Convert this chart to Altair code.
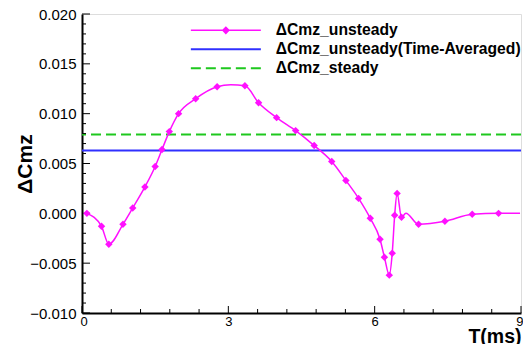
import altair as alt
import pandas as pd

# ---- data ----
t_ms = [0.10, 0.40, 0.55, 0.84, 1.04, 1.29, 1.50, 1.64, 1.79, 1.98, 2.33, 2.77,
        3.05, 3.34, 3.62, 3.99, 4.38, 4.76, 5.12, 5.41, 5.67, 5.91, 6.11, 6.20, 6.30,
        6.36, 6.41, 6.46, 6.55, 6.64, 6.90, 7.44, 8.00, 8.54, 8.98]
d_cmz = [0.0000, -0.0013, -0.0031, -0.0011, 0.00054, 0.00265, 0.0047, 0.0064,
         0.0082, 0.0100, 0.0115, 0.0127, 0.0129, 0.0128, 0.0111, 0.0096, 0.0083, 0.0068,
         0.0052, 0.0033, 0.0015, -0.0005, -0.0026, -0.0044, -0.0062, -0.0040,
         -0.0002, 0.0020, -0.0004, 0.00002, -0.0011, -0.0008, -0.0001, 0.0000, 0.0000]
has_marker = ([True] * 12 + [False] + [True] * 16 + [False] + [True] * 4 + [False])

series_names = ["ΔCmz_unsteady", "ΔCmz_unsteady(Time-Averaged)", "ΔCmz_steady"]
level_values = [0.0063, 0.0079]   # time-averaged, steady

# axis ticks / labels
y_major = [-0.010, -0.005, 0.000, 0.005, 0.010, 0.015, 0.020]
y_minor = [-0.009, -0.008, -0.007, -0.006, -0.004, -0.003, -0.002, -0.001,
           0.001, 0.002, 0.003, 0.004, 0.006, 0.007, 0.008, 0.009,
           0.011, 0.012, 0.013, 0.014, 0.016, 0.017, 0.018, 0.019]
x_major = [0, 3, 6, 9]
x_minor = [0.6, 1.2, 1.8, 2.4, 3.6, 4.2, 4.8, 5.4, 6.6, 7.2, 7.8, 8.4]

MAGENTA = "#ff10ff"
BLUE = "#3030ff"
GREEN = "#1ec81e"
FONT = "Liberation Sans, Arial, sans-serif"

W, H = 439, 299

unsteady = pd.DataFrame({"t": t_ms, "v": d_cmz, "marker": has_marker,
                         "series": series_names[0]})
marks_df = unsteady[unsteady["marker"]]
levels = pd.DataFrame({"series": series_names[1:], "v": level_values})

xs = alt.Scale(domain=[0, 9], nice=False, zero=False)
ys = alt.Scale(domain=[-0.010, 0.020], nice=False, zero=False)

AX = alt.Axis(
    orient="bottom", values=x_major, format="d", ticks=False, grid=False,
    domainColor="black", domainWidth=2, labelFont=FONT, labelFontSize=13,
    labelColor="black", labelPadding=2, labelFlush=True, labelFlushOffset=2,
    title="T(ms)", titleFont=FONT, titleFontSize=19.5, titleFontWeight="bold",
    titleColor="black", titleX=W, titleY=29.5, titleAlign="right",
    titleBaseline="alphabetic")
AY = alt.Axis(
    orient="left", values=y_major, format=".3f", ticks=False, grid=False,
    domainColor="black", domainWidth=2, labelFont=FONT, labelFontSize=15,
    labelColor="black", labelPadding=6,
    title="ΔCmz", titleFont=FONT, titleFontSize=21, titleFontWeight="bold",
    titleColor="black", titleX=-57, titleY=H / 2, titleAngle=270,
    titleAlign="center", titleBaseline="middle")

common_legend = dict(title=None, orient="none", padding=0, symbolSize=100,
                     labelFont=FONT, labelFontSize=15.7, labelFontWeight="bold",
                     labelColor="black", labelOffset=42, labelLimit=400)

legB = alt.Legend(legendX=136, legendY=27.5, symbolType="M-7,0H7",
                  symbolStrokeWidth=2, rowPadding=2, **common_legend)

rules = alt.Chart(levels).mark_rule(strokeWidth=2).encode(
    y=alt.Y("v:Q", scale=ys, axis=AY),
    color=alt.Color("series:N", scale=alt.Scale(domain=series_names[1:], range=[BLUE, GREEN]),
                    legend=legB),
    strokeDash=alt.StrokeDash("series:N",
                              scale=alt.Scale(domain=series_names[1:], range=[[1, 0], [10, 5]]),
                              legend=legB),
)

# inward tick marks along the axes
def yticks(vals, length):
    return alt.Chart(pd.DataFrame({"v": vals})).mark_rule(color="black", strokeWidth=1).encode(
        y=alt.Y("v:Q", scale=ys, axis=AY), x=alt.value(0), x2=alt.value(length))

def xticks(vals, length):
    return alt.Chart(pd.DataFrame({"t": vals})).mark_rule(color="black", strokeWidth=1).encode(
        x=alt.X("t:Q", scale=xs, axis=AX), y=alt.value(H), y2=alt.value(H - length))

line = alt.Chart(unsteady).mark_line(interpolate="monotone", strokeWidth=1.5).encode(
    x=alt.X("t:Q", scale=xs, axis=AX),
    y=alt.Y("v:Q", scale=ys, axis=AY),
    color=alt.Color("series:N", scale=alt.Scale(domain=series_names[:1], range=[MAGENTA]),
                    legend=alt.Legend(
                        legendX=136, legendY=8.5,
                        symbolType="M-7,0H7M0,-0.6L0.6,0L0,0.6L-0.6,0Z",
                        symbolStrokeWidth=1.5, symbolFillColor=MAGENTA,
                        **common_legend)),
)

pts = alt.Chart(marks_df).mark_point(shape="diamond", filled=True, size=55,
                                     color=MAGENTA, opacity=1).encode(
    x=alt.X("t:Q", scale=xs, axis=AX),
    y=alt.Y("v:Q", scale=ys, axis=AY),
)

chart = alt.layer(
    rules, yticks(y_major, 8), yticks(y_minor, 4), xticks(x_major, 7), xticks(x_minor, 4),
    line, pts
).resolve_scale(
    color="independent", strokeDash="independent"
).properties(
    width=W, height=H,
    autosize=alt.AutoSizeParams(type="none"),
    padding={"left": 74, "top": 6, "right": 2, "bottom": 31},
).configure_view(stroke=None).configure(background="white")

chart.save("out.html", embed_options={"renderer": "svg", "actions": False})
